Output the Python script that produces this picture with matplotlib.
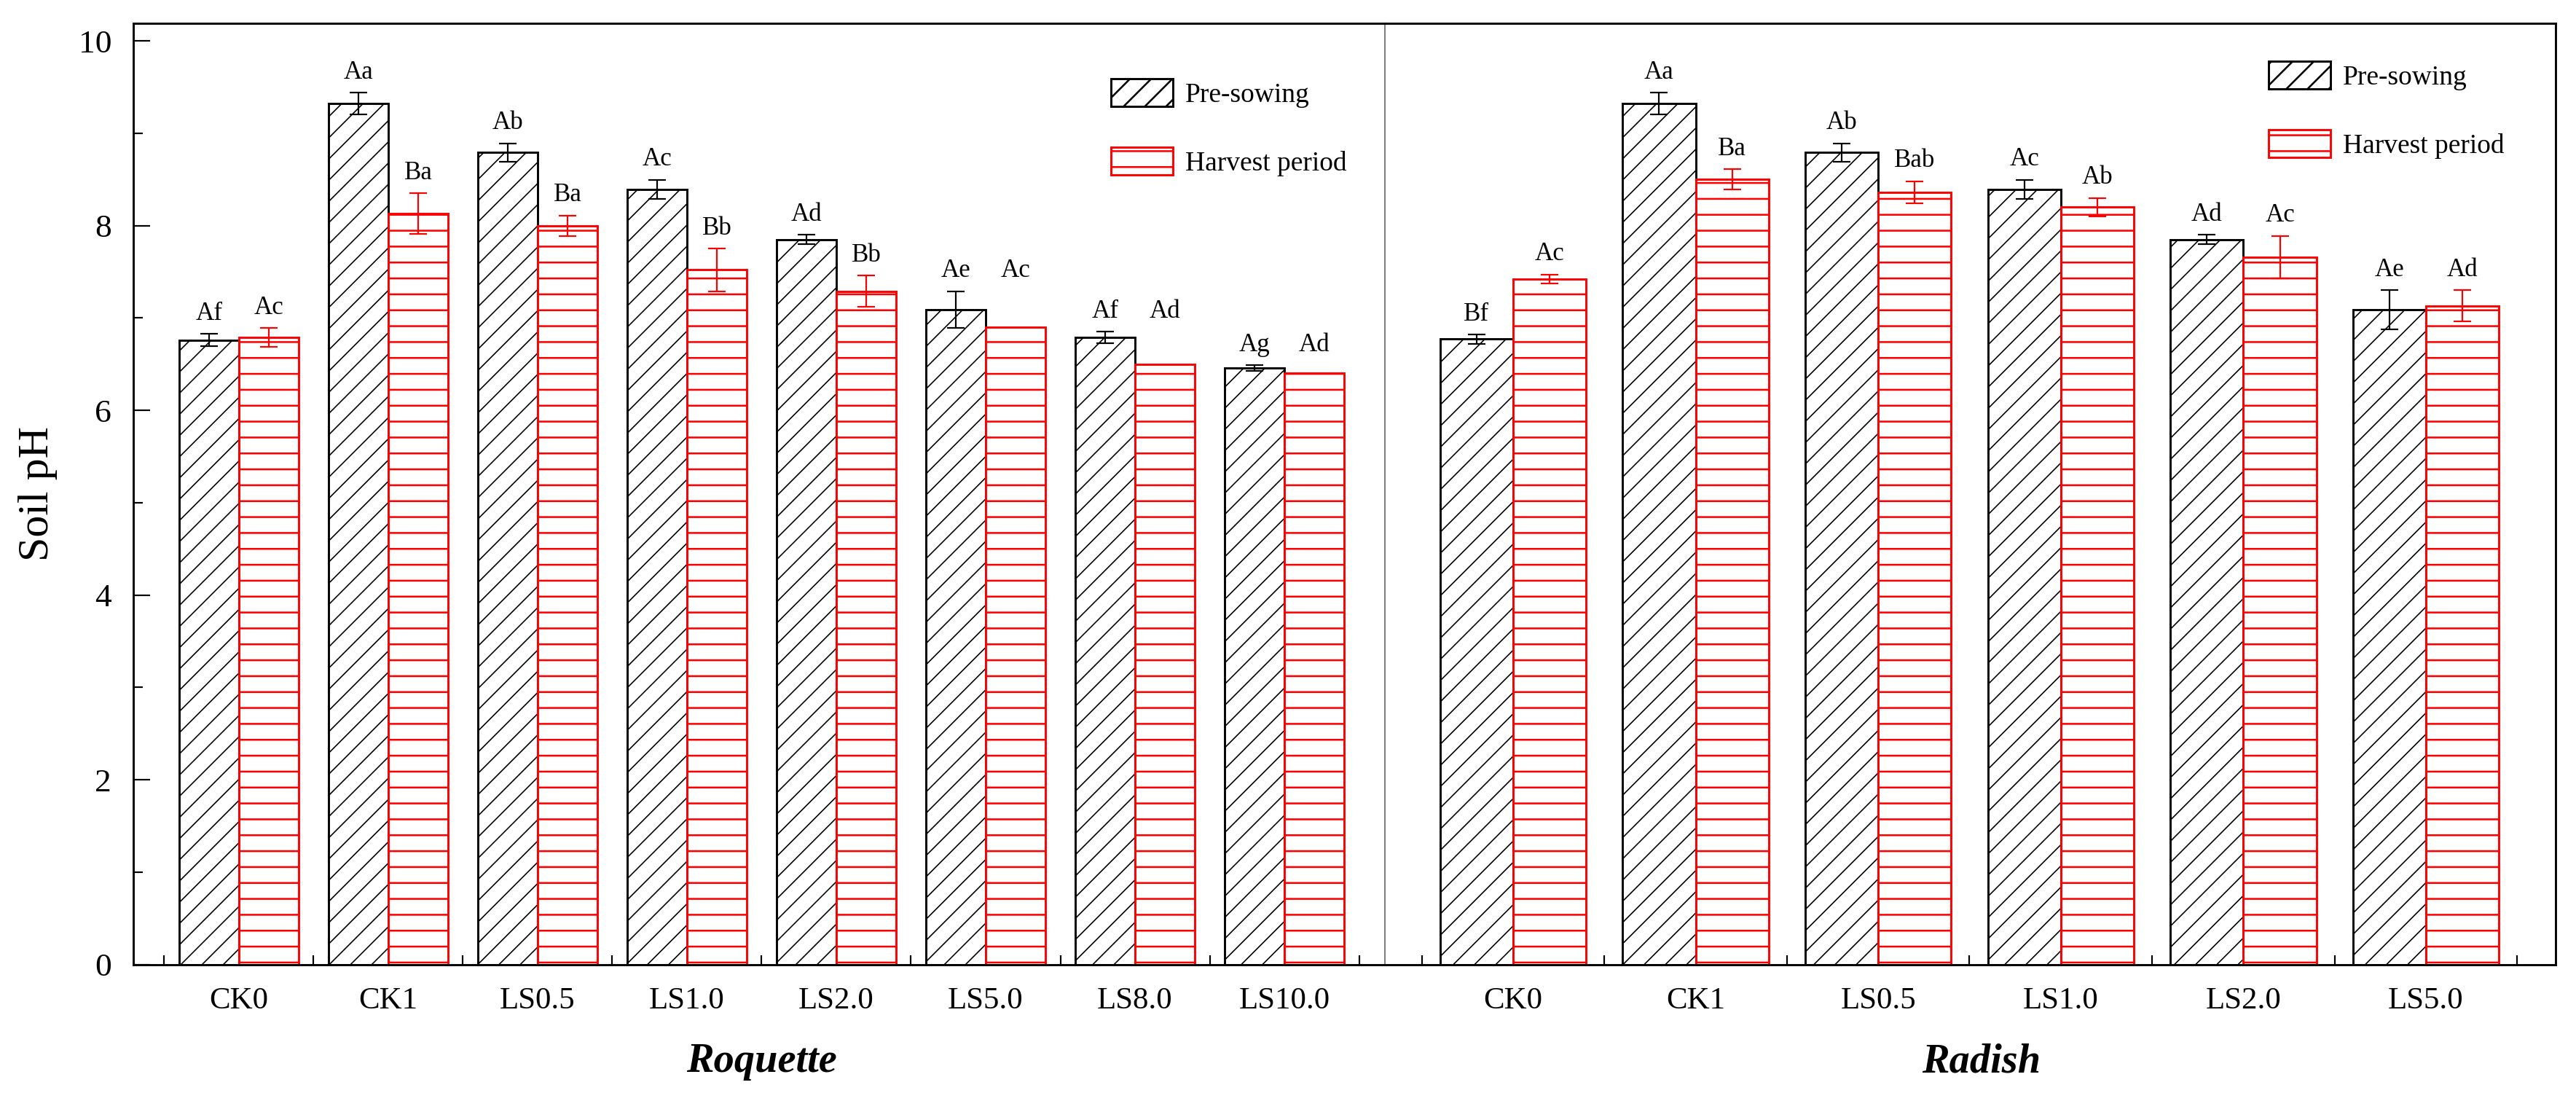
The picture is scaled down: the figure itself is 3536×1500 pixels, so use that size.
import matplotlib
matplotlib.use("Agg")
import matplotlib.pyplot as plt
import numpy as np
from matplotlib.ticker import MultipleLocator

plt.rcParams['font.family'] = ['Liberation Serif', 'DejaVu Serif']

# ---------------- data ----------------
roq_cats = ["CK0", "CK1", "LS0.5", "LS1.0", "LS2.0", "LS5.0", "LS8.0", "LS10.0"]
roq_pre = [6.76, 9.32, 8.79, 8.39, 7.85, 7.09, 6.79, 6.46]
roq_pre_err = [0.065, 0.12, 0.10, 0.105, 0.05, 0.20, 0.06, 0.03]
roq_har = [6.79, 8.13, 8.00, 7.52, 7.29, 6.90, 6.50, 6.40]
roq_har_err = [0.10, 0.22, 0.11, 0.23, 0.17, 0.0, 0.0, 0.0]
roq_pre_sig = ["Af", "Aa", "Ab", "Ac", "Ad", "Ae", "Af", "Ag"]
roq_har_sig = ["Ac", "Ba", "Ba", "Bb", "Bb", "Ac", "Ad", "Ad"]

rad_cats = ["CK0", "CK1", "LS0.5", "LS1.0", "LS2.0", "LS5.0"]
rad_pre = [6.77, 9.32, 8.79, 8.39, 7.85, 7.09]
rad_pre_err = [0.05, 0.12, 0.10, 0.105, 0.05, 0.21]
rad_har = [7.42, 8.50, 8.36, 8.20, 7.66, 7.13]
rad_har_err = [0.05, 0.11, 0.12, 0.10, 0.23, 0.17]
rad_pre_sig = ["Bf", "Aa", "Ab", "Ac", "Ad", "Ae"]
rad_har_sig = ["Ac", "Ba", "Bab", "Ab", "Ac", "Ad"]

series_names = ["Pre-sowing", "Harvest period"]
group_names = ["Roquette", "Radish"]
y_label = "Soil pH"

# ---------------- figure ----------------
DPI = 262
W, H = 3536, 1500
fig = plt.figure(figsize=(W / DPI, H / DPI), dpi=DPI)

ax_top, ax_bot = 32, 1323.5
x_left, x_div, x_right = 183, 1901, 3508
bottom = 1 - ax_bot / H
height = (ax_bot - ax_top) / H
axL = fig.add_axes([x_left / W, bottom, (x_div - x_left) / W, height])
axR = fig.add_axes([x_div / W, bottom, (x_right - x_div) / W, height])

BW = 0.4
RED = '#ff0000'
PAD = 0.22


def draw_panel(ax, cats, pre, pre_err, har, har_err, pre_sig, har_sig):
    x = np.arange(len(cats))
    plt.rcParams['hatch.linewidth'] = 0.45
    b1 = ax.bar(x - BW / 2, pre, BW, color='white', edgecolor='black',
                hatch='///', linewidth=0.8, label=series_names[0], zorder=2)
    for p in b1:
        if hasattr(p, 'set_hatch_linewidth'):
            p.set_hatch_linewidth(0.45)
    plt.rcParams['hatch.linewidth'] = 0.7
    b2 = ax.bar(x + BW / 2, har, BW, color='white', edgecolor=RED,
                hatch='--', linewidth=0.8, label=series_names[1], zorder=2)
    for p in b2:
        if hasattr(p, 'set_hatch_linewidth'):
            p.set_hatch_linewidth(0.7)

    for xs, vals, errs, col in ((x - BW / 2, pre, pre_err, 'black'),
                                (x + BW / 2, har, har_err, RED)):
        vals = np.asarray(vals)
        errs = np.asarray(errs)
        m = errs > 0
        ax.errorbar(xs[m], vals[m], yerr=errs[m], fmt='none', ecolor=col,
                    elinewidth=0.6, capsize=3.3, capthick=0.6, zorder=3)

    # significance letters
    for i in range(len(cats)):
        y_pre = pre[i] + pre_err[i] + PAD
        if har_err[i] > 0:
            y_har = har[i] + har_err[i] + PAD
        else:
            y_har = y_pre  # placed level with the pre-sowing letter
        ax.text(x[i] - BW / 2, y_pre, pre_sig[i], ha='center', va='center',
                fontsize=9.6, zorder=4)
        ax.text(x[i] + BW / 2, y_har, har_sig[i], ha='center', va='center',
                fontsize=9.6, zorder=4)

    ax.set_xticks(x)
    ax.set_xticklabels(cats)
    ax.set_xticks(np.arange(-0.5, len(cats)), minor=True)
    ax.tick_params(axis='x', which='major', length=0, pad=8.5, labelsize=11.8)
    ax.tick_params(axis='x', which='minor', length=3.6, width=0.6,
                   direction='in', top=False)
    ax.set_ylim(0, 10.19)
    return b1, b2


bL = draw_panel(axL, roq_cats, roq_pre, roq_pre_err, roq_har, roq_har_err,
                roq_pre_sig, roq_har_sig)
bR = draw_panel(axR, rad_cats, rad_pre, rad_pre_err, rad_har, rad_har_err,
                rad_pre_sig, rad_har_sig)

axL.set_xlim(-0.707, 7.673)
axR.set_xlim(-0.702, 5.71)

# y axis
axL.yaxis.set_major_locator(MultipleLocator(2))
axL.yaxis.set_minor_locator(MultipleLocator(1))
axL.tick_params(axis='y', which='major', direction='in', length=6.3,
                width=0.6, labelsize=12.5, pad=8.2, right=False)
axL.tick_params(axis='y', which='minor', direction='in', length=3.6,
                width=0.6, right=False)
axR.tick_params(axis='y', which='both', left=False, right=False,
                labelleft=False)

for ax in (axL, axR):
    for s in ax.spines.values():
        s.set_linewidth(0.8)
        s.set_color('black')
axL.spines['right'].set_visible(False)
axR.spines['left'].set_color('#808080')
axR.spines['left'].set_linewidth(0.55)

# legends
for ax, b, (lx, ly) in ((axL, bL, (1525, 108)), (axR, bR, (3114, 84))):
    ax.legend(handles=list(b), labels=series_names, loc='upper left',
              bbox_to_anchor=(lx / W, 1 - ly / H), bbox_transform=fig.transFigure,
              frameon=False, fontsize=10.3, handlelength=2.27, handleheight=1.2,
              labelspacing=1.44, handletextpad=0.45, borderpad=0,
              borderaxespad=0)

# labels
fig.text(52 / W, 1 - 678 / H, y_label, rotation=90, ha='center', va='center',
         fontsize=16.5)
fig.text(1045 / W, 1 - 1457 / H, group_names[0], ha='center', va='center',
         fontsize=15.5, fontweight='bold', fontstyle='italic')
fig.text(2720 / W, 1 - 1457 / H, group_names[1], ha='center', va='center',
         fontsize=15.5, fontweight='bold', fontstyle='italic')

fig.savefig("out.png", dpi=DPI)
